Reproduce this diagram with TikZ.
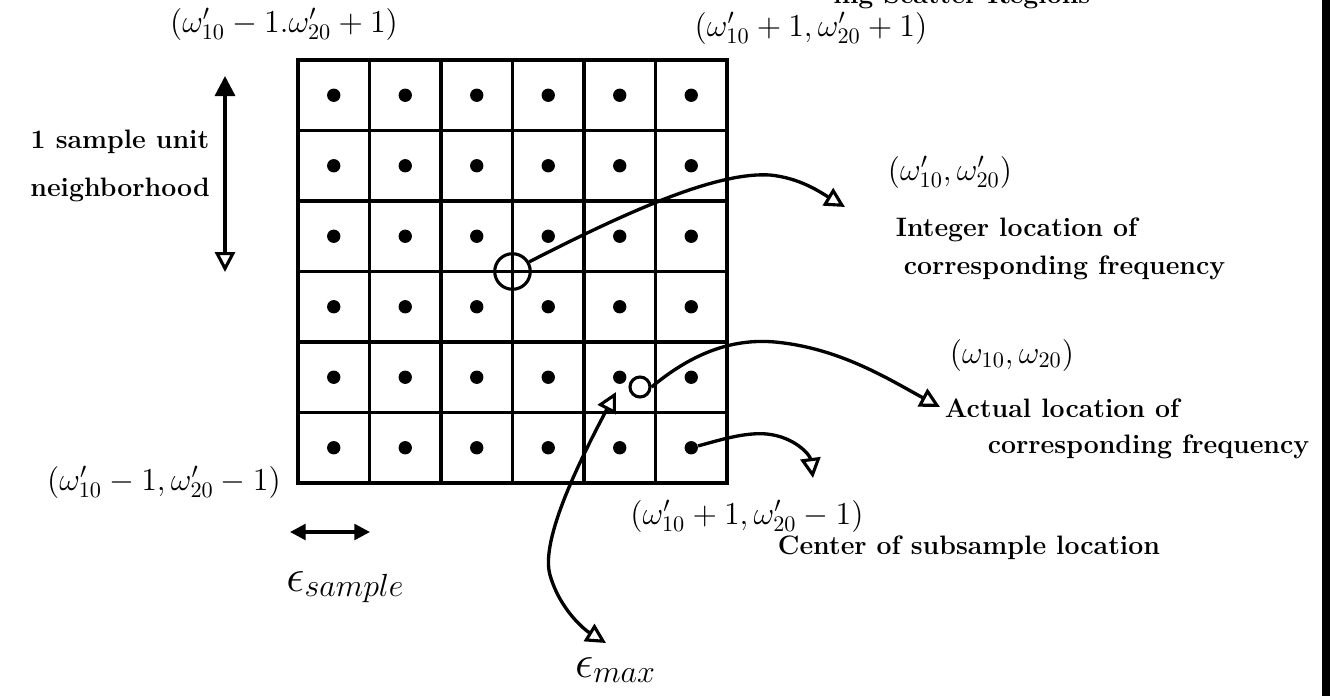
\documentclass[tikz,border=0pt]{standalone}
\usetikzlibrary{arrows.meta}
\begin{document}
\begin{tikzpicture}[x=0.45pt,y=-0.45pt,
  gridline/.style={line width=1.4pt},
  conn/.style={line width=1.5pt},
  opentip/.style={-{Triangle[open,length=9pt,width=9pt,line width=1.4pt]}},
  lbl/.style={font=\large\bfseries},
  mlbl/.style={font=\Large, inner sep=1pt}]
  \useasboundingbox (0,0) rectangle (1330,696);
  \fill (1322,0) rectangle (1330,696);
  \node[lbl, anchor=base west, inner sep=0pt] (scat) at (833,3) {ing Scatter Regions};
  \draw[gridline] (298,60) rectangle (727,483);
  \foreach \i in {1,...,5} {
    \draw[gridline] ({298+71.5*\i},60) -- ({298+71.5*\i},483);
    \draw[gridline] (298,{60+70.5*\i}) -- (727,{60+70.5*\i});
  }
  \foreach \c in {1,...,6}
    \foreach \r in {1,...,6}
      \node[circle, fill, inner sep=0pt, minimum size=6pt] (d\c\r) at ({298+71.5*(\c-0.5)},{60+70.5*(\r-0.5)}) {};
  \node[circle, draw, line width=1.4pt, inner sep=0pt, minimum size=16pt] (intpt) at (512.5,271.5) {};
  \node[circle, draw, line width=1.4pt, fill=white, inner sep=0pt, minimum size=9pt] (actpt) at (640,387) {};
  \node[mlbl] (tl) at (284,24) {$(\omega'_{10}-1.\omega'_{20}+1)$};
  \node[mlbl] (tr) at (811,28) {$(\omega'_{10}+1,\omega'_{20}+1)$};
  \node[mlbl] (bl) at (164,482) {$(\omega'_{10}-1,\omega'_{20}-1)$};
  \node[mlbl] (br) at (747,516) {$(\omega'_{10}+1,\omega'_{20}-1)$};
  \node[lbl] (unit) at (120,142) {1 sample unit};
  \node[lbl] (nbhd) at (120,190) {neighborhood};
  \node[mlbl] (intlbl) at (950,172) {$(\omega'_{10},\omega'_{20})$};
  \node[lbl, anchor=west] (int1) at (888,230) {Integer location of};
  \node[lbl, anchor=west] (int2) at (896,268) {corresponding frequency};
  \node[mlbl] (actlbl) at (1012,355) {$(\omega_{10},\omega_{20})$};
  \node[lbl, anchor=west] (act1) at (937,408) {Actual location of};
  \node[lbl, anchor=west] (act2) at (980,447) {corresponding frequency};
  \node[lbl, anchor=west] (ctr) at (770,548) {Center of subsample location};
  \node[mlbl] (esam) at (345,587) {{\huge$\epsilon$}\raisebox{-2pt}{$sample$}};
  \node[mlbl] (emax) at (615,670) {{\huge$\epsilon$}\raisebox{-2pt}{$max$}};
  \coordinate (vtop) at (225,76);
  \coordinate (vbot) at (225,272);
  \coordinate (hl) at (290,532);
  \coordinate (hr) at (370,532);
  \coordinate (inttip) at (845,207);
  \coordinate (acttip) at (940,407);
  \coordinate (ctrtip) at (813,478);
  \coordinate (maxtip) at (606,643);
  \coordinate (dottip) at (616,392);
  \draw[conn, {Triangle[length=9pt,width=9pt]}-{Triangle[open,length=9pt,width=9pt,line width=1.4pt]}] (vtop) -- (vbot);
  \draw[conn, {Triangle[length=7pt,width=7pt]}-{Triangle[length=7pt,width=7pt]}] (hl) -- (hr);
  \draw[conn, opentip] (intpt.30) .. controls (640,205) and (720,172) .. (770,175) .. controls (800,178) and (820,192) .. (inttip);
  \draw[conn, opentip] (actpt.east) .. controls (690,355) and (730,338) .. (775,342) .. controls (840,348) and (890,380) .. (acttip);
  \draw[conn, opentip] (d66) .. controls (720,440) and (745,432) .. (767,434) .. controls (795,437) and (810,455) .. (ctrtip);
  \draw[conn, {Triangle[open,length=9pt,width=9pt,line width=1.4pt]}-{Triangle[open,length=9pt,width=9pt,line width=1.4pt]}] (dottip) .. controls (580,460) and (540,540) .. (550,575) .. controls (560,610) and (585,630) .. (maxtip);
\end{tikzpicture}
\end{document}
